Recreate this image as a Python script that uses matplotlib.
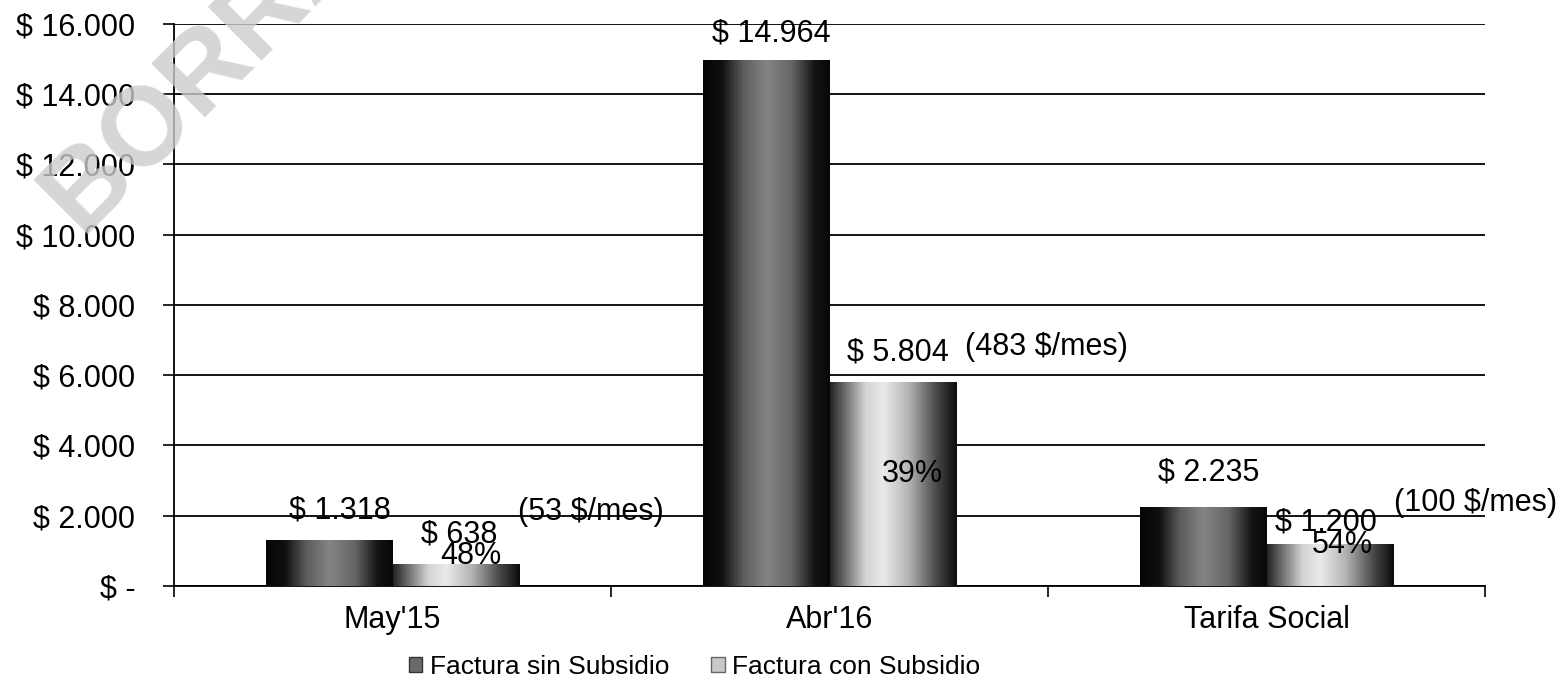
import numpy as np
import matplotlib
matplotlib.use("Agg")
import matplotlib.pyplot as plt
from matplotlib.patches import Patch
from matplotlib.colors import LinearSegmentedColormap

plt.rcParams['font.family'] = ['Liberation Sans', 'DejaVu Sans']

# datos
categorias = ["May'15", "Abr'16", "Tarifa Social"]
sin_subsidio = [1318, 14964, 2235]
con_subsidio = [638, 5804, 1200]
porcentaje = ["48%", "39%", "54%"]
por_mes = ["(53 $/mes)", "(483 $/mes)", "(100 $/mes)"]
series = ["Factura sin Subsidio", "Factura con Subsidio"]
yticks = [0, 2000, 4000, 6000, 8000, 10000, 12000, 14000, 16000]
ylabels = ["$ -", "$ 2.000", "$ 4.000", "$ 6.000", "$ 8.000",
           "$ 10.000", "$ 12.000", "$ 14.000", "$ 16.000"]

def pesos(v):
    return "$ " + f"{v:,}".replace(",", ".")

fig = plt.figure(figsize=(15.61, 6.93), dpi=100)
ax = fig.add_axes([0.1115, 0.1544, 0.840, 0.811])

x = np.arange(len(categorias))
w = 0.29
b1 = ax.bar(x - 0.145, sin_subsidio, w, color='none', zorder=3)
b2 = ax.bar(x + 0.145, con_subsidio, w, color='none', zorder=3)

# degradados tipo Excel
cm_osc = LinearSegmentedColormap.from_list('osc', [
    (0.0, '#050505'), (0.15, '#101010'), (0.32, '#5e5e5e'), (0.5, '#848484'),
    (0.7, '#666666'), (0.88, '#141414'), (1.0, '#080808')])
cm_cla = LinearSegmentedColormap.from_list('cla', [
    (0.0, '#222222'), (0.07, '#505050'), (0.28, '#d4d4d4'), (0.42, '#eaeaea'),
    (0.62, '#b4b4b4'), (0.85, '#444444'), (1.0, '#0c0c0c')])
grad = np.linspace(0, 1, 256).reshape(1, -1)
for bars, cmap in [(b1, cm_osc), (b2, cm_cla)]:
    for r in bars:
        x0, y0 = r.get_x(), r.get_y()
        im = ax.imshow(grad, cmap=cmap, aspect='auto', zorder=3,
                       extent=[x0, x0 + r.get_width(), y0, y0 + r.get_height()])
        im.set_clip_path(r)
ax.set_xlim(-0.5, 2.5)
ax.set_ylim(0, 16000)

# etiquetas
fs = 22
lab_sin = [(-0.12, 2160), (-0.133, 15730), (-0.133, 3240)]
lab_con = [(0.153, 1480), (0.156, 6660), (0.135, 1820)]
lab_pct = [(0.18, 850), (0.19, 3190), (0.174, 1170)]
lab_mes = [(0.286, 2105), (0.309, 6800), (0.291, 2360)]
for i in range(len(categorias)):
    ax.text(i + lab_sin[i][0], lab_sin[i][1], pesos(sin_subsidio[i]),
            ha='center', va='center', fontsize=fs, zorder=5)
    ax.text(i + lab_con[i][0], lab_con[i][1], pesos(con_subsidio[i]),
            ha='center', va='center', fontsize=fs, zorder=5)
    ax.text(i + lab_pct[i][0], lab_pct[i][1], porcentaje[i],
            ha='center', va='center', fontsize=fs, zorder=5)
    ax.text(i + lab_mes[i][0], lab_mes[i][1], por_mes[i],
            ha='left', va='center', fontsize=fs, zorder=5, clip_on=False)

# ejes
ax.set_yticks(yticks)
ax.set_yticklabels(ylabels, fontsize=fs)
ax.tick_params(axis='y', length=8, width=1.2, pad=20)
ax.set_xticks([-0.5, 0.5, 1.5, 2.5])
ax.set_xticklabels([])
ax.tick_params(axis='x', which='major', length=8, width=1.2, direction='out')
ax.set_xticks(x, minor=True)
ax.set_xticklabels(categorias, minor=True, fontsize=fs)
ax.tick_params(axis='x', which='minor', length=0, pad=14)
ax.grid(axis='y', color='black', linewidth=1.3, zorder=0)
ax.set_axisbelow(True)
for s in ['top', 'right']:
    ax.spines[s].set_visible(False)
ax.spines['left'].set_linewidth(1.3)
ax.spines['bottom'].set_linewidth(1.3)

handles = [Patch(facecolor='#6a6a6a', edgecolor='#333333'),
           Patch(facecolor='#c8c8c8', edgecolor='#666666')]
fig.legend(handles, series, loc='center', bbox_to_anchor=(0.445, 0.038),
           ncol=2, frameon=False, fontsize=19, handlelength=0.5,
           handleheight=0.5, handletextpad=0.3, columnspacing=1.6)

# marca de agua
fig.text(0.052, 0.662, "BORRADOR", rotation=45, rotation_mode='anchor',
         ha='left', va='baseline', fontsize=80, fontweight='bold',
         color='#cccccc', alpha=0.8, zorder=10)

fig.savefig("out.png", dpi=100)
